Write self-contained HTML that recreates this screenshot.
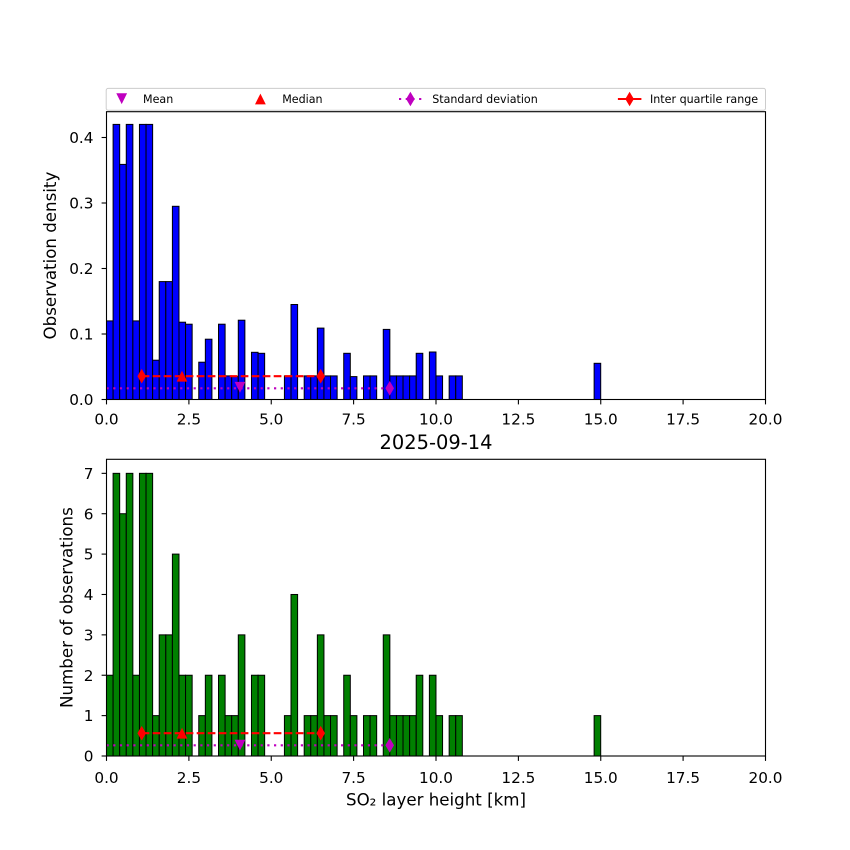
<!DOCTYPE html>
<html><head><meta charset="utf-8"><style>
html,body{margin:0;padding:0;background:#fff;}
svg{display:block;}
text{font-family:"DejaVu Sans","Liberation Sans",sans-serif;fill:#000;}
</style></head><body>
<svg width="850" height="850" viewBox="0 0 850 850" xmlns="http://www.w3.org/2000/svg">
<rect width="850" height="850" fill="#fff"/>
<defs>
<path id="dm" d="M0,-7.3 L4.3,0 L0,7.3 L-4.3,0 Z"/>
<path id="tu" d="M0,-5.4 L5.4,5.4 L-5.4,5.4 Z"/>
<path id="td" d="M-5.4,-5.4 L5.4,-5.4 L0,5.4 Z"/>
<g id="xt" stroke="#000" stroke-width="1.1">
<line x1="106.5" y1="0" x2="106.5" y2="4.9"/><line x1="188.9" y1="0" x2="188.9" y2="4.9"/>
<line x1="271.25" y1="0" x2="271.25" y2="4.9"/><line x1="353.6" y1="0" x2="353.6" y2="4.9"/>
<line x1="436" y1="0" x2="436" y2="4.9"/><line x1="518.4" y1="0" x2="518.4" y2="4.9"/>
<line x1="600.75" y1="0" x2="600.75" y2="4.9"/><line x1="683.1" y1="0" x2="683.1" y2="4.9"/>
<line x1="765.5" y1="0" x2="765.5" y2="4.9"/>
</g>
<g id="xl" font-size="15.28" text-anchor="middle">
<text x="106.5" y="0">0.0</text><text x="188.9" y="0">2.5</text><text x="271.25" y="0">5.0</text>
<text x="353.6" y="0">7.5</text><text x="436" y="0">10.0</text><text x="518.4" y="0">12.5</text>
<text x="600.75" y="0">15.0</text><text x="683.1" y="0">17.5</text><text x="765.5" y="0">20.0</text>
</g>
</defs>

<!-- TOP AXES -->
<g fill="#0000ff" stroke="#000" stroke-width="1">
<rect x="106.5" y="320.9" width="6.59" height="78.6"/>
<rect x="113.09" y="124.4" width="6.59" height="275.1"/>
<rect x="119.68" y="164.4" width="6.59" height="235.1"/>
<rect x="126.27" y="124.4" width="6.59" height="275.1"/>
<rect x="132.86" y="320.9" width="6.59" height="78.6"/>
<rect x="139.45" y="124.4" width="6.59" height="275.1"/>
<rect x="146.04" y="124.4" width="6.59" height="275.1"/>
<rect x="152.63" y="360.2" width="6.59" height="39.3"/>
<rect x="159.22" y="281.6" width="6.59" height="117.9"/>
<rect x="165.81" y="281.6" width="6.59" height="117.9"/>
<rect x="172.40" y="206.3" width="6.59" height="193.2"/>
<rect x="178.98" y="322.2" width="6.59" height="77.3"/>
<rect x="185.57" y="324.2" width="6.59" height="75.3"/>
<rect x="198.75" y="362.2" width="6.59" height="37.3"/>
<rect x="205.34" y="339.2" width="6.59" height="60.3"/>
<rect x="218.52" y="324.2" width="6.59" height="75.3"/>
<rect x="225.11" y="375.9" width="6.59" height="23.6"/>
<rect x="231.70" y="376.6" width="6.59" height="22.9"/>
<rect x="238.29" y="320.2" width="6.59" height="79.3"/>
<rect x="251.47" y="352.3" width="6.59" height="47.2"/>
<rect x="258.06" y="353.3" width="6.59" height="46.2"/>
<rect x="284.42" y="375.9" width="6.59" height="23.6"/>
<rect x="291.01" y="304.5" width="6.59" height="95"/>
<rect x="304.19" y="375.9" width="6.59" height="23.6"/>
<rect x="310.77" y="375.9" width="6.59" height="23.6"/>
<rect x="317.36" y="328.1" width="6.59" height="71.4"/>
<rect x="323.95" y="375.9" width="6.59" height="23.6"/>
<rect x="330.54" y="375.9" width="6.59" height="23.6"/>
<rect x="343.72" y="353.3" width="6.59" height="46.2"/>
<rect x="350.31" y="376.6" width="6.59" height="22.9"/>
<rect x="363.49" y="375.9" width="6.59" height="23.6"/>
<rect x="370.08" y="375.9" width="6.59" height="23.6"/>
<rect x="383.26" y="329.4" width="6.59" height="70.1"/>
<rect x="389.85" y="375.9" width="6.59" height="23.6"/>
<rect x="396.44" y="375.9" width="6.59" height="23.6"/>
<rect x="403.03" y="375.9" width="6.59" height="23.6"/>
<rect x="409.62" y="375.9" width="6.59" height="23.6"/>
<rect x="416.21" y="353.3" width="6.59" height="46.2"/>
<rect x="429.39" y="352.0" width="6.59" height="47.5"/>
<rect x="435.98" y="375.9" width="6.59" height="23.6"/>
<rect x="449.15" y="375.9" width="6.59" height="23.6"/>
<rect x="455.74" y="375.9" width="6.59" height="23.6"/>
<rect x="594.12" y="363.3" width="6.59" height="36.2"/>
</g>
<line x1="106.5" y1="388.3" x2="389.7" y2="388.3" stroke="#bf00bf" stroke-width="2.1" stroke-dasharray="2.2,4.5"/>
<line x1="141.7" y1="376.2" x2="320.7" y2="376.2" stroke="#ff0000" stroke-width="2.1" stroke-dasharray="7.7,3.3"/>
<use href="#dm" x="141.7" y="376.2" fill="#ff0000"/>
<use href="#dm" x="320.7" y="376.2" fill="#ff0000"/>
<use href="#tu" x="182" y="376.2" fill="#ff0000"/>
<use href="#dm" x="389.7" y="388.3" fill="#bf00bf"/>
<use href="#td" x="240" y="387.3" fill="#bf00bf"/>
<rect x="106.5" y="111.7" width="659" height="287.8" fill="none" stroke="#000" stroke-width="1.1"/>
<use href="#xt" y="399.5"/>
<g stroke="#000" stroke-width="1.1">
<line x1="101.6" y1="399.5" x2="106.5" y2="399.5"/><line x1="101.6" y1="334" x2="106.5" y2="334"/>
<line x1="101.6" y1="268.5" x2="106.5" y2="268.5"/><line x1="101.6" y1="203" x2="106.5" y2="203"/>
<line x1="101.6" y1="137.5" x2="106.5" y2="137.5"/>
</g>
<use href="#xl" y="424.5"/>
<g font-size="15.28" text-anchor="end">
<text x="93.5" y="405.1">0.0</text><text x="93.5" y="339.6">0.1</text><text x="93.5" y="274.1">0.2</text>
<text x="93.5" y="208.6">0.3</text><text x="93.5" y="143.1">0.4</text>
</g>
<text font-size="16.67" text-anchor="middle" transform="translate(56,255.6) rotate(-90)">Observation density</text>

<!-- LEGEND -->
<rect x="106.2" y="88.4" width="659.3" height="21.8" rx="2" fill="#fff" fill-opacity="0.8" stroke="#cccccc" stroke-width="1"/>
<use href="#td" x="121.7" y="98.7" fill="#bf00bf"/>
<text x="143" y="103.1" font-size="11.1">Mean</text>
<use href="#tu" x="260.4" y="99" fill="#ff0000"/>
<text x="282.2" y="103.1" font-size="11.1">Median</text>
<line x1="399" y1="99" x2="422" y2="99" stroke="#bf00bf" stroke-width="2.1" stroke-dasharray="2.2,4.5"/>
<use href="#dm" x="410.4" y="99" fill="#bf00bf"/>
<text x="432.2" y="103.1" font-size="11.1">Standard deviation</text>
<line x1="617.9" y1="99" x2="641.4" y2="99" stroke="#ff0000" stroke-width="2.1"/>
<use href="#dm" x="629.6" y="99" fill="#ff0000"/>
<text x="650" y="103.1" font-size="11.1">Inter quartile range</text>

<text x="436" y="449" font-size="19.44" text-anchor="middle">2025-09-14</text>

<!-- BOTTOM AXES -->
<g fill="#008000" stroke="#000" stroke-width="1">
<rect x="106.5" y="675.24" width="6.59" height="80.76"/>
<rect x="113.09" y="473.34" width="6.59" height="282.66"/>
<rect x="119.68" y="513.72" width="6.59" height="242.28"/>
<rect x="126.27" y="473.34" width="6.59" height="282.66"/>
<rect x="132.86" y="675.24" width="6.59" height="80.76"/>
<rect x="139.45" y="473.34" width="6.59" height="282.66"/>
<rect x="146.04" y="473.34" width="6.59" height="282.66"/>
<rect x="152.63" y="715.62" width="6.59" height="40.38"/>
<rect x="159.22" y="634.86" width="6.59" height="121.14"/>
<rect x="165.81" y="634.86" width="6.59" height="121.14"/>
<rect x="172.40" y="554.1" width="6.59" height="201.9"/>
<rect x="178.98" y="675.24" width="6.59" height="80.76"/>
<rect x="185.57" y="675.24" width="6.59" height="80.76"/>
<rect x="198.75" y="715.62" width="6.59" height="40.38"/>
<rect x="205.34" y="675.24" width="6.59" height="80.76"/>
<rect x="218.52" y="675.24" width="6.59" height="80.76"/>
<rect x="225.11" y="715.62" width="6.59" height="40.38"/>
<rect x="231.70" y="715.62" width="6.59" height="40.38"/>
<rect x="238.29" y="634.86" width="6.59" height="121.14"/>
<rect x="251.47" y="675.24" width="6.59" height="80.76"/>
<rect x="258.06" y="675.24" width="6.59" height="80.76"/>
<rect x="284.42" y="715.62" width="6.59" height="40.38"/>
<rect x="291.01" y="594.48" width="6.59" height="161.52"/>
<rect x="304.19" y="715.62" width="6.59" height="40.38"/>
<rect x="310.77" y="715.62" width="6.59" height="40.38"/>
<rect x="317.36" y="634.86" width="6.59" height="121.14"/>
<rect x="323.95" y="715.62" width="6.59" height="40.38"/>
<rect x="330.54" y="715.62" width="6.59" height="40.38"/>
<rect x="343.72" y="675.24" width="6.59" height="80.76"/>
<rect x="350.31" y="715.62" width="6.59" height="40.38"/>
<rect x="363.49" y="715.62" width="6.59" height="40.38"/>
<rect x="370.08" y="715.62" width="6.59" height="40.38"/>
<rect x="383.26" y="634.86" width="6.59" height="121.14"/>
<rect x="389.85" y="715.62" width="6.59" height="40.38"/>
<rect x="396.44" y="715.62" width="6.59" height="40.38"/>
<rect x="403.03" y="715.62" width="6.59" height="40.38"/>
<rect x="409.62" y="715.62" width="6.59" height="40.38"/>
<rect x="416.21" y="675.24" width="6.59" height="80.76"/>
<rect x="429.39" y="675.24" width="6.59" height="80.76"/>
<rect x="435.98" y="715.62" width="6.59" height="40.38"/>
<rect x="449.15" y="715.62" width="6.59" height="40.38"/>
<rect x="455.74" y="715.62" width="6.59" height="40.38"/>
<rect x="594.12" y="715.62" width="6.59" height="40.38"/>
</g>
<line x1="106.5" y1="745.3" x2="389.7" y2="745.3" stroke="#bf00bf" stroke-width="2.1" stroke-dasharray="2.2,4.5"/>
<line x1="141.7" y1="733.2" x2="320.7" y2="733.2" stroke="#ff0000" stroke-width="2.1" stroke-dasharray="7.7,3.3"/>
<use href="#dm" x="141.7" y="733.2" fill="#ff0000"/>
<use href="#dm" x="320.7" y="733.2" fill="#ff0000"/>
<use href="#tu" x="182" y="733.2" fill="#ff0000"/>
<use href="#dm" x="389.7" y="745.3" fill="#bf00bf"/>
<use href="#td" x="240" y="745.1" fill="#bf00bf"/>
<rect x="106.5" y="459.3" width="659" height="296.7" fill="none" stroke="#000" stroke-width="1.1"/>
<use href="#xt" y="756"/>
<g stroke="#000" stroke-width="1.1">
<line x1="101.6" y1="756" x2="106.5" y2="756"/><line x1="101.6" y1="715.62" x2="106.5" y2="715.62"/>
<line x1="101.6" y1="675.24" x2="106.5" y2="675.24"/><line x1="101.6" y1="634.86" x2="106.5" y2="634.86"/>
<line x1="101.6" y1="594.48" x2="106.5" y2="594.48"/><line x1="101.6" y1="554.1" x2="106.5" y2="554.1"/>
<line x1="101.6" y1="513.72" x2="106.5" y2="513.72"/><line x1="101.6" y1="473.34" x2="106.5" y2="473.34"/>
</g>
<use href="#xl" y="783"/>
<g font-size="15.28" text-anchor="end">
<text x="93.5" y="761.6">0</text><text x="93.5" y="721.2">1</text><text x="93.5" y="680.8">2</text>
<text x="93.5" y="640.4">3</text><text x="93.5" y="600.1">4</text><text x="93.5" y="559.7">5</text>
<text x="93.5" y="519.3">6</text><text x="93.5" y="478.9">7</text>
</g>
<text font-size="16.67" text-anchor="middle" transform="translate(72.7,607.6) rotate(-90)">Number of observations</text>
<text x="436" y="805.5" font-size="16.67" text-anchor="middle">SO₂ layer height [km]</text>
</svg>
</body></html>
